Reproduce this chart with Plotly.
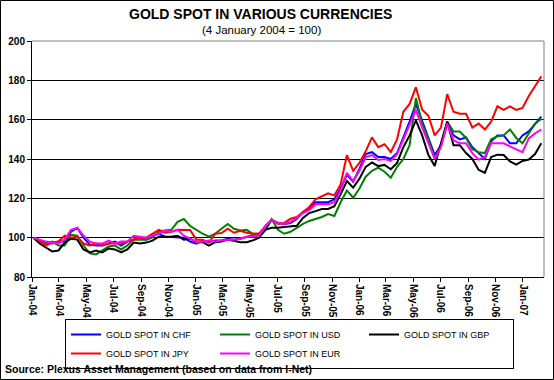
import pandas as pd
import plotly.graph_objects as go

# ---- data (index, 4 January 2004 = 100), fortnightly observations ----
dates = pd.date_range("2004-01-04", periods=82, freq="14D")

chf = [100, 98.5, 97.5, 97, 98, 98, 103, 105, 100, 96.5, 96, 96, 97, 98, 96, 98, 99, 100, 99, 101,
       102, 100.5, 100.3, 100.3, 100, 98, 97, 98.5, 97.7, 98.5, 98.6, 99.5, 99, 99.5, 100.5, 101.2, 101.2, 104, 109, 107.5,
       107, 107.5, 109.5, 113, 115, 118, 118, 118, 119.5, 125, 132, 128.5, 135, 142.5, 143.5, 141, 141, 140, 143, 151,
       159, 168, 159, 151, 142, 147, 158, 152, 150, 151, 146, 143, 140, 149, 152, 152, 148, 148, 152, 154,
       158, 161.5]
usd = [100, 98, 97, 98, 96, 96, 101.5, 101, 96, 92, 91.5, 93.5, 95.5, 96, 94, 96, 99, 99, 99, 100,
       103, 103.7, 104, 108, 109.5, 106, 104, 102, 100.5, 102, 104.5, 107, 104.5, 103.7, 104, 102, 102, 105, 109.5, 104,
       102, 103, 105, 107, 108.5, 109.5, 110.5, 112, 111, 118, 124, 120.3, 125, 131, 134, 135.6, 133.5, 130.5, 136, 140,
       147, 171, 158, 150, 140, 147, 159, 154, 154, 150.7, 145, 143.5, 143, 150, 151.5, 152, 155, 150.7, 148, 153,
       158, 160.5]
gbp = [100, 97, 95, 93, 93.5, 97.5, 99.5, 99, 94, 92.5, 93.5, 92.5, 94.5, 94, 92.5, 94, 97.5, 97, 97.5, 98.5,
       100.5, 100.5, 100.5, 101, 99, 99.5, 97.7, 97.7, 96, 97.7, 98, 99, 98.5, 97.7, 97.7, 98.6, 100, 104, 105, 105,
       105.4, 105.8, 106, 110, 112.5, 113.5, 114.6, 114.6, 116, 122, 128.8, 125.4, 130, 136, 138.2, 136.4, 137, 134.8, 138, 146,
       152, 159.6, 152, 142, 136.5, 148, 159, 147, 147, 143, 140, 134.5, 133, 141, 142.2, 142, 138.8, 137.1, 139, 139.7,
       142.5, 148]
jpy = [100, 98.5, 96, 97.5, 98, 101, 100, 100.5, 97, 96, 97, 96, 97, 97, 97, 98, 99, 100, 100, 102,
       104, 102.5, 103, 104, 104, 103.9, 99, 99, 97.5, 102, 102.4, 104.6, 102.5, 103.5, 102.5, 102, 102, 106, 109.2, 107,
       107.5, 109.6, 110.5, 113, 115.6, 119.5, 121, 122.5, 121.5, 127, 142, 134, 138, 144, 151, 146, 147.5, 143.5, 150, 164,
       168, 176.5, 165, 162, 152, 156, 173, 164, 163, 163, 156, 158, 155, 159, 166.8, 165, 166.8, 165, 166, 172,
       177, 182]
eur = [100, 99, 98, 97.5, 97, 99, 104, 105, 101, 98, 97, 97, 98.5, 97, 98, 98, 101, 100.5, 100, 101,
       102, 103.5, 103, 104, 101, 99.5, 97.7, 98, 98.5, 98, 98.5, 99, 99, 99.5, 100.5, 100.7, 101, 106, 109, 107.5,
       107, 108, 110, 112.5, 114, 117, 117.2, 117, 118, 124, 133, 128.8, 134, 141, 142, 139.5, 140, 139, 142.5, 150,
       158, 165, 156, 148, 140, 146, 158, 149.5, 148, 148, 143, 139.7, 141, 148, 148, 148, 146.4, 145, 143.5, 150.5,
       153, 155]

series_names = ["GOLD SPOT IN CHF", "GOLD SPOT IN USD", "GOLD SPOT IN GBP", "GOLD SPOT IN JPY", "GOLD SPOT IN EUR"]
series_values = [chf, usd, gbp, jpy, eur]
series_colors = ["#0000FF", "#008000", "#000000", "#FF0000", "#FF00FF"]

title_text = "GOLD SPOT IN VARIOUS CURRENCIES"
subtitle_text = "(4 January 2004 = 100)"
source_text = "Source: Plexus Asset Management (based on data from I-Net)"

# ---- layout geometry ----
W, H = 554, 380
L, R, T, B = 32, 10, 41, 103
PW, PH = W - L - R, H - T - B


def px(x):
    return (x - L) / PW


def py(y):
    return (H - B - y) / PH


FONT = "Arial, Liberation Sans, sans-serif"

fig = go.Figure()
for name, vals, col in zip(series_names, series_values, series_colors):
    fig.add_trace(go.Scatter(x=dates, y=vals, mode="lines", name=name,
                             line=dict(color=col, width=2)))

fig.update_layout(
    width=W, height=H,
    margin=dict(l=L, r=R, t=T, b=B, pad=0, autoexpand=False),
    paper_bgcolor="white", plot_bgcolor="white",
    font=dict(family=FONT, color="black", size=9),
    showlegend=True,
    legend=dict(orientation="h", x=px(65), y=py(319), xanchor="left", yanchor="top",
                bordercolor="black", borderwidth=1, bgcolor="white",
                font=dict(family=FONT, size=9, color="black"),
                entrywidth=104, entrywidthmode="pixels", tracegroupgap=0,
                itemwidth=30),
    xaxis=dict(type="date", range=["2004-01-01", "2007-02-17"],
               tick0="2004-01-01", dtick="M2", tickformat="%b-%y",
               tickangle=90, ticks="outside", ticklen=4, tickcolor="black",
               showline=True, linecolor="black", linewidth=1,
               showgrid=False, zeroline=False,
               tickfont=dict(family=FONT, size=10, color="black", weight="bold")),
    yaxis=dict(range=[80, 200], dtick=20, tick0=80,
               ticks="outside", ticklen=4, tickcolor="black",
               showline=True, linecolor="black", linewidth=1,
               showgrid=True, gridcolor="black", gridwidth=1, zeroline=False,
               tickfont=dict(family=FONT, size=10, color="black", weight="bold")),
)

# plot-area grey top/right border
fig.add_shape(type="line", xref="paper", yref="paper", x0=0, x1=1, y0=1, y1=1,
              line=dict(color="#808080", width=1))
fig.add_shape(type="line", xref="paper", yref="paper", x0=1, x1=1, y0=0, y1=1,
              line=dict(color="#808080", width=1))
# outer chart border
fig.add_shape(type="rect", xref="paper", yref="paper",
              x0=px(0.5), x1=px(W - 0.5), y0=py(H - 0.5), y1=py(0.5),
              line=dict(color="black", width=1), layer="below")

fig.add_annotation(text="<b>" + title_text + "</b>", xref="paper", yref="paper",
                   x=px(260), y=py(14), xanchor="center", yanchor="middle", showarrow=False,
                   font=dict(family=FONT, size=14, color="black"))
fig.add_annotation(text=subtitle_text, xref="paper", yref="paper",
                   x=px(261), y=py(30), xanchor="center", yanchor="middle", showarrow=False,
                   font=dict(family=FONT, size=11.5, color="black"))
fig.add_annotation(text="<b>" + source_text + "</b>", xref="paper", yref="paper",
                   x=px(3), y=py(369), xanchor="left", yanchor="middle", showarrow=False,
                   font=dict(family=FONT, size=10.5, color="black"))

fig.write_html("out.html", config={"displayModeBar": False},
               post_script="document.body.style.margin='0';document.body.style.overflow='hidden';")
